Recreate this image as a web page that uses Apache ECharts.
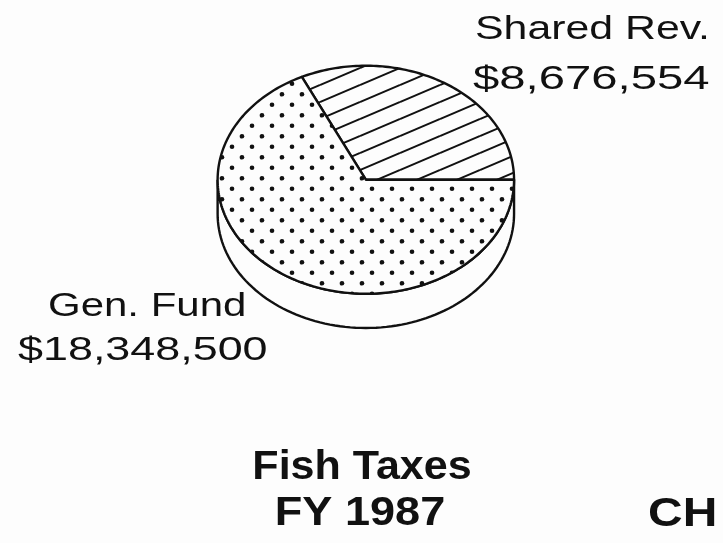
<!DOCTYPE html>
<html>
<head>
<meta charset="utf-8">
<title>Fish Taxes FY 1987</title>
<script src="https://cdn.jsdelivr.net/npm/echarts@6/dist/echarts.min.js"></script>
<style>
  html, body { margin: 0; padding: 0; background: #fdfdfd; }
  #pieChart { width: 723px; height: 543px; }
</style>
</head>
<body>
<div id="pieChart"></div>
<script>
// data
const sliceNames = ['Shared Rev.', 'Gen. Fund'];
const sliceValues = [8676554, 18348500];
const titleLines = ['Fish Taxes', 'FY 1987'];
const cornerText = 'CH';

const inkColor = '#111';
const paper = '#fdfdfd';
const total = sliceValues.reduce((a, b) => a + b, 0);

// ellipse geometry (fraction of chart size)
function geom(api) {
  const w = api.getWidth(), h = api.getHeight();
  return { cx: w * 0.506, cy: h * 0.331, rx: w * 0.205, ry: h * 0.21, depth: h * 0.063 };
}
function pt(g, a, dy) {
  return [g.cx + g.rx * Math.cos(a), g.cy - g.ry * Math.sin(a) + (dy || 0)];
}

// fill patterns
function dotPattern() {
  const W = 20, H = 21;
  const c = document.createElement('canvas');
  c.width = W; c.height = H;
  const ctx = c.getContext('2d');
  ctx.fillStyle = paper;
  ctx.fillRect(0, 0, W, H);
  ctx.fillStyle = inkColor;
  const dots = [[2, 10.3], [12, -0.2]];
  dots.forEach(function (d) {
    [-W, 0, W].forEach(function (ox) {
      [-H, 0, H].forEach(function (oy) {
        ctx.beginPath();
        ctx.arc(d[0] + ox, d[1] + oy, 2.3, 0, Math.PI * 2);
        ctx.fill();
      });
    });
  });
  return c;
}
function hatchPattern() {
  const W = 40, H = 17;
  const c = document.createElement('canvas');
  c.width = W; c.height = H;
  const ctx = c.getContext('2d');
  ctx.fillStyle = paper;
  ctx.fillRect(0, 0, W, H);
  ctx.strokeStyle = inkColor;
  ctx.lineWidth = 2;
  [-H, 0, H].forEach(function (o) {
    ctx.beginPath();
    ctx.moveTo(0, H + o);
    ctx.lineTo(W, o);
    ctx.stroke();
  });
  return c;
}
const fills = [
  { image: hatchPattern(), repeat: 'repeat' },
  { image: dotPattern(), repeat: 'repeat' }
];

function money(v) {
  return '$' + v.toLocaleString('en-US');
}

const pieChart = echarts.init(document.getElementById('pieChart'));

const labelStyle = { font: '34px "Liberation Sans", Arial, sans-serif', fill: inkColor, textAlign: 'left', textVerticalAlign: 'middle' };
const titleStyle = { font: 'bold 41px "Liberation Sans", Arial, sans-serif', fill: inkColor, textAlign: 'center', textVerticalAlign: 'middle' };

const option = {
  backgroundColor: paper,
  animation: false,
  graphic: [
    { type: 'text', x: 475, y: 30, scaleX: 1.26, style: Object.assign({ text: sliceNames[0] }, labelStyle) },
    { type: 'text', x: 473, y: 80, scaleX: 1.39, style: Object.assign({ text: money(sliceValues[0]) }, labelStyle) },
    { type: 'text', x: 48, y: 307, scaleX: 1.235, style: Object.assign({ text: sliceNames[1] }, labelStyle) },
    { type: 'text', x: 18, y: 351, scaleX: 1.32, style: Object.assign({ text: money(sliceValues[1]) }, labelStyle) },
    { type: 'text', x: 362, y: 468, scaleX: 1.05, style: Object.assign({ text: titleLines[0] }, titleStyle) },
    { type: 'text', x: 360, y: 514, scaleX: 1.1, style: Object.assign({ text: titleLines[1] }, titleStyle) },
    { type: 'text', x: 648, y: 515, scaleX: 1.17, style: Object.assign({ text: cornerText }, titleStyle, { textAlign: 'left' }) }
  ],
  series: [
    { // side of the disc
      type: 'custom',
      coordinateSystem: 'none',
      z: 1,
      data: [total],
      renderItem: function (params, api) {
        const g = geom(api);
        const pts = [];
        for (let i = 0; i <= 90; i++) pts.push(pt(g, Math.PI + Math.PI * i / 90, 0));
        for (let i = 90; i >= 0; i--) pts.push(pt(g, Math.PI + Math.PI * i / 90, g.depth));
        return {
          type: 'polygon',
          shape: { points: pts },
          style: { fill: paper, stroke: inkColor, lineWidth: 2.4 }
        };
      }
    },
    { // top slices
      type: 'custom',
      coordinateSystem: 'none',
      z: 2,
      data: sliceValues.map(function (v, i) { return { name: sliceNames[i], value: v }; }),
      renderItem: function (params, api) {
        const g = geom(api);
        let before = 0;
        for (let i = 0; i < params.dataIndex; i++) before += sliceValues[i];
        const a0 = 2 * Math.PI * before / total;
        const a1 = a0 + 2 * Math.PI * api.value(0) / total;
        const steps = Math.max(4, Math.ceil((a1 - a0) / 0.02));
        const pts = [[g.cx, g.cy]];
        for (let i = 0; i <= steps; i++) pts.push(pt(g, a0 + (a1 - a0) * i / steps, 0));
        return {
          type: 'polygon',
          shape: { points: pts },
          style: { fill: fills[params.dataIndex], stroke: inkColor, lineWidth: 2.4, lineJoin: 'round' }
        };
      }
    }
  ]
};

pieChart.setOption(option);
window.addEventListener('resize', function () {
  pieChart.resize();
});
</script>
</body>
</html>
